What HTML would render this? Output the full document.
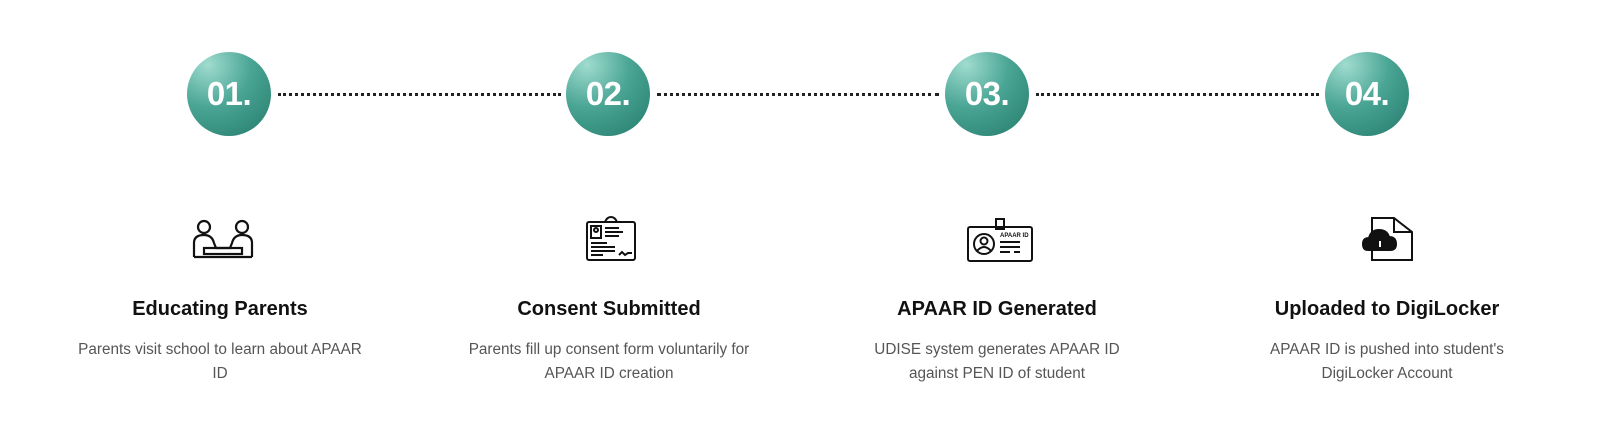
<!DOCTYPE html>
<html><head><meta charset="utf-8"><style>
body{margin:0;width:1600px;height:444px;background:#fff;position:relative;overflow:hidden;font-family:"Liberation Sans",sans-serif}
.c{position:absolute;top:52px;width:84px;height:84px;border-radius:50%;background:radial-gradient(circle at 25% 15%,#9fdccf 0%,#4aa595 45%,#237a6a 100%);color:#fff;font-weight:bold;font-size:33px;line-height:84px;text-align:center;letter-spacing:-0.5px}
.d{position:absolute;top:93px;height:0;border-top:3px dotted #222}
.col{position:absolute;width:340px;text-align:center}
.t{position:absolute;top:298px;font-size:20px;font-weight:bold;color:#111}
.p{position:absolute;top:338px;font-size:15.3px;line-height:23.5px;color:#555}
svg{position:absolute}
</style></head><body>
<div class="c" style="left:187px">01.</div>
<div class="c" style="left:566px">02.</div>
<div class="c" style="left:945px">03.</div>
<div class="c" style="left:1325px">04.</div>
<div class="d" style="left:278px;width:283px"></div>
<div class="d" style="left:657px;width:282px"></div>
<div class="d" style="left:1036px;width:283px"></div>

<svg style="left:192px;top:219px" width="62" height="40" viewBox="0 0 62 40" fill="none" stroke="#111" stroke-width="2.2">
<circle cx="12" cy="8" r="6"/><circle cx="50" cy="8" r="6"/>
<path d="M2 38V24q0-8 10-8q8 0 10 8l2 5h14l2-5q2-8 10-8q10 0 10 8v14"/>
<rect x="12" y="29" width="38" height="6"/><path d="M2 38h58"/>
</svg>
<svg style="left:585px;top:216px" width="52" height="46" viewBox="0 0 52 46" fill="none" stroke="#111" stroke-width="2">
<rect x="2" y="6" width="48" height="38" rx="2"/><path d="M20 6q2-5 6-5t6 5"/>
<rect x="6" y="10" width="10" height="12"/><circle cx="11" cy="14" r="2"/>
<path d="M20 12h14M20 16h18M20 20h14M6 27h16M6 31h24M6 35h24M6 39h12M34 39l3-3 3 3 3-2h4"/>
</svg>
<svg style="left:966px;top:217px" width="68" height="46" viewBox="0 0 68 46" fill="none" stroke="#111" stroke-width="2">
<rect x="2" y="10" width="64" height="34" rx="2"/><rect x="30" y="2" width="8" height="10"/>
<circle cx="18" cy="27" r="10"/><circle cx="18" cy="24" r="3.5"/><path d="M11 34q7-8 14 0"/>
<path d="M34 25h20M34 30h20M34 35h10M48 35h6"/>
<text x="34" y="20" font-size="6" fill="#111" stroke="none" font-family="Liberation Sans" font-weight="bold">APAAR ID</text>
</svg>
<svg style="left:1362px;top:216px" width="54" height="46" viewBox="0 0 54 46" fill="none" stroke="#111" stroke-width="2">
<path d="M10 28V2h22l18 14v28H10z"/><path d="M32 2v14h18"/>
<path d="M6 34q-5 0-5-6 0-6 6-6 2-8 10-8 8 0 10 7 7 0 7 7 0 6-6 6z" fill="#111"/>
<path d="M18 25v6" stroke="#fff"/>
</svg>

<div class="col t" style="left:50px">Educating Parents</div>
<div class="col p" style="left:50px">Parents visit school to learn about APAAR<br>ID</div>
<div class="col t" style="left:439px">Consent Submitted</div>
<div class="col p" style="left:439px">Parents fill up consent form voluntarily for<br>APAAR ID creation</div>
<div class="col t" style="left:827px">APAAR ID Generated</div>
<div class="col p" style="left:827px">UDISE system generates APAAR ID<br>against PEN ID of student</div>
<div class="col t" style="left:1217px">Uploaded to DigiLocker</div>
<div class="col p" style="left:1217px">APAAR ID is pushed into student's<br>DigiLocker Account</div>
</body></html>
